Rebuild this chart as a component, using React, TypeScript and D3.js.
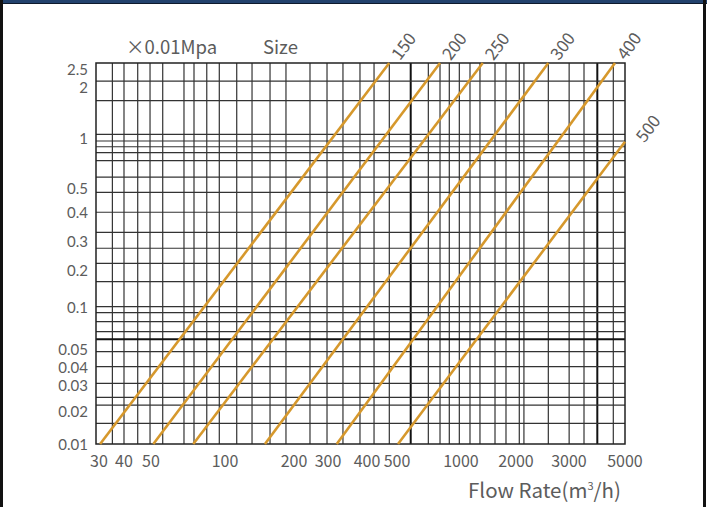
import React from 'react';
import * as d3 from 'd3';

// Pressure-loss curves per nominal size: each drawn as a straight run on the log grid
const sizes = ['150', '200', '250', '300', '400', '500'];
const flowLow = [31.3, 51.1, 74.3, 149.4, 320, 505.5];
const lossLow = [0.01, 0.01, 0.01, 0.01, 0.01, 0.01];
const flowHigh = [472, 797, 1315, 2561, 4564, 5000];
const lossHigh = [2.5, 2.5, 2.5, 2.5, 2.5, 0.95];

// Axis tick labels
const xTickValues = [30, 40, 50, 100, 200, 300, 400, 500, 1000, 2000, 3000, 5000];
const yTickValues = [0.01, 0.02, 0.03, 0.04, 0.05, 0.1, 0.2, 0.3, 0.4, 0.5, 1, 2, 2.5];

// Grid rulings
const xGridValues = [35.5, 40, 44.8, 49.6, 55.8, 68.1, 74.8, 84.3, 94.8, 112.5, 131.2, 157.2, 184.5, 242, 296.5,
  335, 379.8, 421.5, 472.2, 580, 702, 796.7, 881, 982, 1120, 1270, 1535, 1763, 2051, 2125, 2561, 3004, 3440,
  3884, 4494];
const xGridHeavy = [580, 3884];
const yGridValues = [2.114, 1.66, 1.0515, 0.959, 0.886, 0.816, 0.73, 0.582, 0.48, 0.399, 0.327, 0.271, 0.2196,
  0.1606, 0.1006, 0.091, 0.0785, 0.0665, 0.0587, 0.04834, 0.04015, 0.0308, 0.02474, 0.02195, 0.01544];
const yGridHeavy = [0.0587];

const W = 707;
const H = 507;
const FONT = '"Noto Sans CJK SC", "Noto Sans", sans-serif';
const TICK_FONT = 'Lato, "Noto Sans CJK SC", sans-serif';
const TEXT = '#5c5c5c';
const CURVE = '#d6982c';

export default function App() {
  const left = 96, right = 625, top = 63, bottom = 444;

  // both axes are logarithmic, with the chart's own (uneven) decade spacing
  const xStretch = [0, 28, 55, 129, 198, 232, 271, 301, 365, 420, 473, 529];
  const xLog = d3.scaleLinear()
    .domain(xTickValues.map(Math.log10))
    .range(xStretch.map(o => left + o));
  const x = (v: number) => xLog(Math.log10(v));

  const yStretch = [381, 348, 322, 304, 286, 244, 207, 178, 149, 125, 75, 24, 0];
  const yLog = d3.scaleLinear()
    .domain(yTickValues.map(Math.log10))
    .range(yStretch.map(o => top + o));
  const y = (v: number) => yLog(Math.log10(v));

  const line = d3.line<[number, number]>().x(d => x(d[0])).y(d => y(d[1]));

  return (
    <svg width={W} height={H} style={{ position: 'absolute', left: 0, top: 0, background: '#fff' }}
      fontFamily={FONT}>
      {/* frame */}
      <rect x={0} y={0} width={W} height={4} fill="#22426d" />
      <rect x={0} y={3} width={W} height={1} fill="#0d1a2c" />
      <rect x={0} y={0} width={3} height={H} fill="#111" />
      <rect x={W - 4} y={0} width={3} height={H} fill="#111" />

      {/* grid */}
      <g>
        {xGridValues.map((v, i) => (
          <line key={'gx' + i} x1={x(v)} x2={x(v)} y1={top} y2={bottom}
            strokeWidth={xGridHeavy.includes(v) ? 2 : 1.2}
            stroke={xGridHeavy.includes(v) ? '#111' : '#333'} />
        ))}
        {yGridValues.map((v, i) => (
          <line key={'gy' + i} x1={left} x2={right} y1={y(v)} y2={y(v)}
            strokeWidth={yGridHeavy.includes(v) ? 2 : 1.2}
            stroke={yGridHeavy.includes(v) ? '#111' : '#333'} />
        ))}
      </g>
      <rect x={left} y={top} width={right - left} height={bottom - top} fill="none" stroke="#222" strokeWidth={1.5} />

      {/* curves */}
      {sizes.map((s, i) => (
        <path key={'c' + s}
          d={line([[flowLow[i], lossLow[i]], [flowHigh[i], lossHigh[i]]]) || ''}
          fill="none" stroke={CURVE} strokeWidth={2.6} />
      ))}

      {/* size labels at curve ends */}
      {sizes.map((s, i) => {
        const x1 = x(flowLow[i]), y1 = y(lossLow[i]);
        const x2 = x(flowHigh[i]), y2 = y(lossHigh[i]);
        const ang = Math.atan2(y2 - y1, x2 - x1);
        const atRight = x2 >= right - 0.5 && y2 > top + 1;
        const px = atRight ? x2 + 22 : x2 + 22 * Math.cos(ang);
        const py = atRight ? y2 - 14 : y2 + 22 * Math.sin(ang);
        return (
          <text key={'l' + s} x={px} y={py} fill={TEXT} fontSize={17} textAnchor="middle"
            dominantBaseline="central" transform={`rotate(${(ang * 180) / Math.PI}, ${px}, ${py})`}>
            {s}
          </text>
        );
      })}

      {/* y tick labels */}
      {yTickValues.map((v, i) => (
        <text key={'yt' + i} x={88} y={Math.max(y(v), top + 6)} fill={TEXT} fontSize={15}
          fontFamily={TICK_FONT} textAnchor="end" dominantBaseline="central">
          {String(v)}
        </text>
      ))}

      {/* x tick labels */}
      {xTickValues.map((v, i) => (
        <text key={'xt' + i} x={Math.min(Math.max(x(v), left + 3), right + 5)} y={460} fill={TEXT} fontSize={16}
          textAnchor="middle" dominantBaseline="central">
          {String(v)}
        </text>
      ))}

      {/* headings */}
      <text x={126} y={54} fill={TEXT} fontSize={18.5}>×0.01Mpa</text>
      <text x={263} y={54} fill={TEXT} fontSize={18.5}>Size</text>
      <text x={468} y={498} fill={TEXT} fontSize={20.5}>
        Flow Rate(m<tspan dy={-8} fontSize={11}>3</tspan><tspan dy={8}>/h)</tspan>
      </text>
    </svg>
  );
}
